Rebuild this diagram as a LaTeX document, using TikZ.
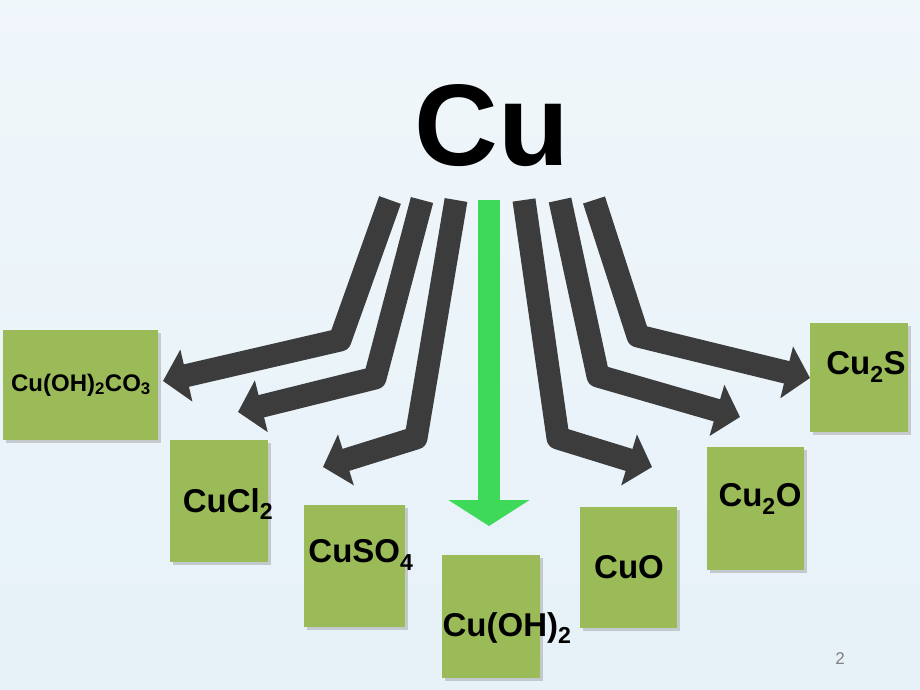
\documentclass[tikz,border=0pt]{standalone}
\usepackage{fontspec}
\setmainfont{Liberation Sans}
\usetikzlibrary{arrows.meta,shadows}
\definecolor{bg}{HTML}{E6F1F8}
\definecolor{boxg}{HTML}{9BBB59}
\definecolor{arrd}{HTML}{3C3C3C}
\definecolor{arrg}{HTML}{3FD95A}
\begin{document}
\begin{tikzpicture}[x=1pt,y=-1pt,
  box/.style={fill=boxg,draw=none,inner sep=0pt,drop shadow={shadow xshift=3pt,shadow yshift=-3pt,opacity=0.35}},
  lbl/.style={font=\bfseries\fontsize{33}{33}\selectfont,inner sep=0pt},
  arr/.style={draw=arrd,line width=23pt,line join=round,-{Triangle[length=24pt,width=52pt]}},
  garr/.style={draw=arrg,line width=22pt,-{Triangle[length=26pt,width=80pt]}}]
\fill[top color=bg!60!white,bottom color=bg] (0,0) rectangle (920,690);
\useasboundingbox (0,0) rectangle (920,690);
\node[font=\bfseries\fontsize{116}{116}\selectfont,inner sep=0pt] (cu) at (492,126) {Cu};
% boxes
\node[box,minimum width=155pt,minimum height=110pt] (b1) at (80.5,385) {};
\node[box,minimum width=98pt,minimum height=122pt] (b2) at (219,501) {};
\node[box,minimum width=101pt,minimum height=122pt] (b3) at (354.5,566) {};
\node[box,minimum width=98pt,minimum height=123pt] (b4) at (491,616.5) {};
\node[box,minimum width=97pt,minimum height=121pt] (b5) at (628.5,567.5) {};
\node[box,minimum width=97pt,minimum height=123pt] (b6) at (755.5,508.5) {};
\node[box,minimum width=98pt,minimum height=109pt] (b7) at (859,377.5) {};
% labels
\node[inner sep=0pt,font=\bfseries\fontsize{24}{24}\selectfont] (t1) at (81,385) {Cu(OH)\textsubscript{2}CO\textsubscript{3}};
\node[lbl] (t2) at (228,504) {CuCl\textsubscript{2}};
\node[lbl] (t3) at (361,555) {CuSO\textsubscript{4}};
\node[lbl] (t4) at (507,628) {Cu(OH)\textsubscript{2}};
\node[lbl] (t5) at (629,567) {CuO};
\node[lbl] (t6) at (760,499) {Cu\textsubscript{2}O};
\node[lbl] (t7) at (866,367) {Cu\textsubscript{2}S};
\node[text=gray,font=\fontsize{17}{17}\selectfont] (pg) at (840,659) {2};
% arrows
\coordinate (s1) at (390,200); \coordinate (k1) at (340,340); \coordinate (e1) at (163,381);
\coordinate (s2) at (422,200); \coordinate (k2) at (375,378); \coordinate (e2) at (238,412);
\coordinate (s3) at (456,200); \coordinate (k3) at (416,438); \coordinate (e3) at (323,467);
\coordinate (s4) at (489,200); \coordinate (e4) at (489,526);
\coordinate (s5) at (524,200); \coordinate (k5) at (558,438); \coordinate (e5) at (652,467);
\coordinate (s6) at (560,200); \coordinate (k6) at (598,376); \coordinate (e6) at (740,417);
\coordinate (s7) at (594,200); \coordinate (k7) at (638,336); \coordinate (e7) at (810,378);
\draw[arr] (s1) -- (k1) -- (e1);
\draw[arr] (s2) -- (k2) -- (e2);
\draw[arr] (s3) -- (k3) -- (e3);
\draw[arr] (s7) -- (k7) -- (e7);
\draw[arr] (s6) -- (k6) -- (e6);
\draw[arr] (s5) -- (k5) -- (e5);
\draw[garr] (s4) -- (e4);
\end{tikzpicture}
\end{document}
